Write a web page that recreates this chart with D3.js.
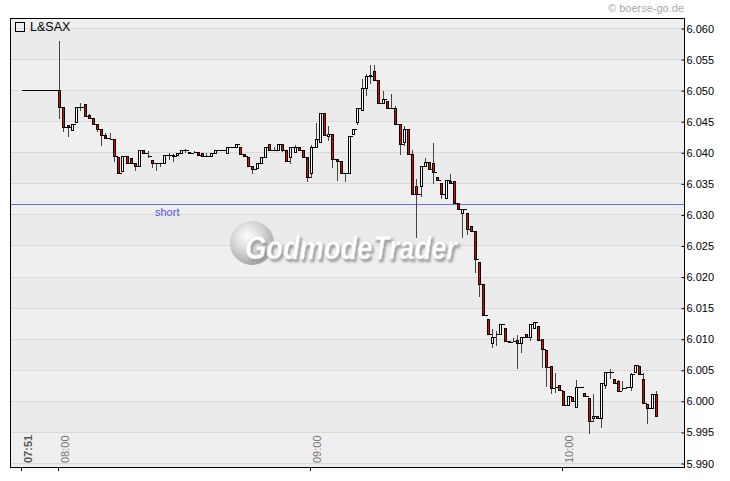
<!DOCTYPE html>
<html><head><meta charset="utf-8">
<script src="https://cdn.jsdelivr.net/npm/d3@7"></script>
<style>body{margin:0;background:#fff}svg{display:block}</style>
</head><body>
<svg id="c" width="730" height="481"></svg>
<script>
const times = ["07:51",
"08:00","08:01","08:02","08:03","08:04","08:05","08:06","08:07","08:08","08:09",
"08:10","08:11","08:12","08:13","08:14","08:15","08:16","08:17","08:18","08:19",
"08:20","08:21","08:22","08:23","08:24","08:25","08:26","08:27","08:28","08:29",
"08:30","08:31","08:32","08:33","08:34","08:35","08:36","08:37","08:38","08:39",
"08:40","08:41","08:42","08:43","08:44","08:45","08:46","08:47","08:48","08:49",
"08:50","08:51","08:52","08:53","08:54","08:55","08:56","08:57","08:58","08:59",
"09:00","09:01","09:02","09:03","09:04","09:05","09:06","09:07","09:08","09:09",
"09:10","09:11","09:12","09:13","09:14","09:15","09:16","09:17","09:18","09:19",
"09:20","09:21","09:22","09:23","09:24","09:25","09:26","09:27","09:28","09:29",
"09:30","09:31","09:32","09:33","09:34","09:35","09:36","09:37","09:38","09:39",
"09:40","09:41","09:42","09:43","09:44","09:45","09:46","09:47","09:48","09:49",
"09:50","09:51","09:52","09:53","09:54","09:55","09:56","09:57","09:58","09:59",
"10:00","10:01","10:02","10:03","10:04","10:05","10:06","10:07","10:08","10:09",
"10:10","10:11","10:12","10:13","10:14","10:15","10:16","10:17","10:18","10:19",
"10:20","10:21","10:22"];
const opens = [6.0500,
6.0500,6.0473,6.0444,6.0436,6.0449,6.0473,6.0477,6.0460,6.0455,6.0445,
6.0437,6.0428,6.0421,6.0421,6.0392,6.0370,6.0394,6.0391,6.0383,6.0378,
6.0404,6.0394,6.0387,6.0383,6.0383,6.0383,6.0395,6.0395,6.0395,6.0399,
6.0404,6.0400,6.0400,6.0400,6.0399,6.0394,6.0394,6.0399,6.0404,6.0404,
6.0399,6.0408,6.0408,6.0408,6.0398,6.0393,6.0378,6.0374,6.0382,6.0393,
6.0413,6.0404,6.0404,6.0413,6.0404,6.0393,6.0400,6.0408,6.0404,6.0393,
6.0367,6.0408,6.0416,6.0463,6.0427,6.0430,6.0390,6.0386,6.0367,6.0367,
6.0430,6.0448,6.0468,6.0503,6.0525,6.0531,6.0517,6.0480,6.0482,6.0471,
6.0471,6.0445,6.0416,6.0437,6.0398,6.0346,6.0346,6.0378,6.0385,6.0382,
6.0360,6.0350,6.0326,6.0354,6.0354,6.0318,6.0303,6.0303,6.0281,6.0273,
6.0223,6.0188,6.0132,6.0093,6.0108,6.0108,6.0118,6.0097,6.0097,6.0098,
6.0093,6.0108,6.0102,6.0118,6.0121,6.0099,6.0082,6.0056,6.0022,6.0025,
6.0016,5.9994,6.0007,5.9990,6.0022,6.0012,6.0004,5.9972,5.9976,5.9972,
6.0025,6.0047,6.0035,6.0032,6.0020,6.0022,6.0022,6.0047,6.0056,6.0035,
5.9995,5.9988,6.0011];
const highs = [6.0500,
6.0580,6.0473,6.0444,6.0445,6.0473,6.0481,6.0477,6.0463,6.0455,6.0445,
6.0437,6.0432,6.0432,6.0421,6.0392,6.0394,6.0394,6.0391,6.0383,6.0404,
6.0404,6.0404,6.0387,6.0383,6.0383,6.0395,6.0400,6.0399,6.0399,6.0404,
6.0407,6.0400,6.0404,6.0400,6.0399,6.0400,6.0399,6.0404,6.0404,6.0404,
6.0408,6.0408,6.0413,6.0408,6.0398,6.0393,6.0378,6.0382,6.0393,6.0408,
6.0413,6.0410,6.0413,6.0413,6.0404,6.0408,6.0413,6.0408,6.0404,6.0393,
6.0414,6.0449,6.0463,6.0463,6.0444,6.0430,6.0390,6.0386,6.0367,6.0427,
6.0437,6.0471,6.0519,6.0527,6.0542,6.0542,6.0517,6.0500,6.0482,6.0495,
6.0476,6.0445,6.0444,6.0437,6.0405,6.0358,6.0378,6.0393,6.0385,6.0417,
6.0360,6.0350,6.0355,6.0366,6.0354,6.0318,6.0308,6.0303,6.0281,6.0273,
6.0223,6.0188,6.0132,6.0117,6.0114,6.0123,6.0118,6.0097,6.0102,6.0108,
6.0102,6.0108,6.0123,6.0127,6.0121,6.0099,6.0082,6.0056,6.0047,6.0025,
6.0016,6.0008,6.0007,6.0035,6.0022,6.0012,6.0004,6.0012,5.9976,6.0028,
6.0047,6.0053,6.0035,6.0035,6.0034,6.0023,6.0047,6.0058,6.0056,6.0047,
5.9995,6.0011,6.0017];
const lows = [6.0500,
6.0455,6.0434,6.0426,6.0436,6.0449,6.0468,6.0458,6.0455,6.0445,6.0434,
6.0412,6.0423,6.0421,6.0386,6.0367,6.0370,6.0383,6.0383,6.0372,6.0378,
6.0399,6.0393,6.0376,6.0372,6.0378,6.0383,6.0389,6.0386,6.0395,6.0399,
6.0400,6.0399,6.0400,6.0395,6.0394,6.0394,6.0394,6.0399,6.0404,6.0404,
6.0399,6.0408,6.0408,6.0398,6.0394,6.0378,6.0367,6.0374,6.0382,6.0393,
6.0404,6.0404,6.0404,6.0402,6.0386,6.0382,6.0400,6.0404,6.0393,6.0353,
6.0360,6.0408,6.0416,6.0428,6.0420,6.0377,6.0355,6.0367,6.0353,6.0367,
6.0430,6.0445,6.0468,6.0492,6.0511,6.0517,6.0480,6.0480,6.0471,6.0471,
6.0445,6.0398,6.0412,6.0398,6.0333,6.0264,6.0329,6.0378,6.0373,6.0350,
6.0355,6.0326,6.0326,6.0350,6.0318,6.0308,6.0263,6.0268,6.0273,6.0208,
6.0168,6.0138,6.0108,6.0087,6.0090,6.0108,6.0097,6.0094,6.0097,6.0053,
6.0079,6.0102,6.0098,6.0118,6.0098,6.0055,6.0024,6.0012,6.0015,6.0017,
5.9994,5.9994,6.0000,5.9990,6.0022,6.0008,5.9948,5.9967,5.9972,5.9958,
6.0020,6.0036,6.0028,6.0016,6.0017,6.0020,6.0017,6.0047,6.0044,5.9997,
5.9965,5.9988,5.9976];
const closes = [6.0500,
6.0473,6.0441,6.0441,6.0445,6.0473,6.0473,6.0458,6.0455,6.0445,6.0437,
6.0428,6.0423,6.0421,6.0394,6.0367,6.0394,6.0383,6.0383,6.0378,6.0404,
6.0399,6.0394,6.0383,6.0383,6.0383,6.0395,6.0395,6.0394,6.0399,6.0404,
6.0404,6.0399,6.0400,6.0395,6.0394,6.0394,6.0399,6.0404,6.0404,6.0404,
6.0408,6.0408,6.0413,6.0398,6.0394,6.0378,6.0373,6.0382,6.0393,6.0408,
6.0404,6.0404,6.0413,6.0404,6.0386,6.0408,6.0408,6.0404,6.0393,6.0360,
6.0408,6.0421,6.0463,6.0428,6.0430,6.0390,6.0386,6.0367,6.0367,6.0427,
6.0437,6.0471,6.0503,6.0523,6.0523,6.0517,6.0480,6.0485,6.0471,6.0471,
6.0445,6.0413,6.0437,6.0398,6.0333,6.0333,6.0378,6.0385,6.0373,6.0369,
6.0355,6.0333,6.0355,6.0350,6.0318,6.0308,6.0308,6.0277,6.0273,6.0228,
6.0188,6.0138,6.0108,6.0102,6.0108,6.0123,6.0097,6.0094,6.0097,6.0093,
6.0102,6.0102,6.0123,6.0127,6.0098,6.0083,6.0055,6.0020,6.0022,6.0017,
5.9994,6.0008,6.0000,6.0022,6.0022,6.0008,5.9967,5.9976,5.9972,6.0028,
6.0047,6.0047,6.0028,6.0016,6.0020,6.0023,6.0043,6.0058,6.0044,5.9997,
5.9988,6.0011,5.9976];
const yTicks = [6.060,6.055,6.050,6.045,6.040,6.035,6.030,6.025,6.020,6.015,6.010,6.005,6.000,5.995,5.990];
const xTickLabels = ["07:51","08:00","09:00","10:00"];
const shortLevel = 6.0316;
const titleText = "L&SAX";
const copyrightText = "\u00a9 boerse-go.de";

const parse = d3.timeParse("%H:%M");
const svg = d3.select("#c");
const L = 10, R = 685, T = 18, B = 468;
const x = d3.scaleTime().domain([parse("07:51"), parse("10:00")]).range([20.5, 562.3]);
const y = d3.scaleLinear().domain([5.990, 6.060]).range([463, 28]);
const yr = v => Math.round(y(v)) + 0.5;

const data = times.map((t,i)=>({t:parse(t),o:opens[i],h:highs[i],l:lows[i],c:closes[i]}));

// background
svg.append("rect").attr("x",L).attr("y",T).attr("width",R-L).attr("height",B-T).attr("fill","#efefef");
const bandEdges = [T].concat(yTicks.map(v=>Math.round(y(v)))).concat([B]);
for (let i=0;i<bandEdges.length-1;i++){
  if (i%2===1) svg.append("rect").attr("x",L).attr("y",bandEdges[i]).attr("width",R-L)
     .attr("height",bandEdges[i+1]-bandEdges[i]).attr("fill","#ebebeb");
}
svg.append("g").selectAll("line").data(yTicks).join("line")
  .attr("x1",L).attr("x2",R).attr("y1",d=>yr(d)).attr("y2",d=>yr(d))
  .attr("stroke","#d9d9d9").attr("stroke-width",1);

// watermark
const defs = svg.append("defs");
const rg = defs.append("radialGradient").attr("id","wg").attr("cx","40%").attr("cy","35%").attr("r","65%");
rg.append("stop").attr("offset","0%").attr("stop-color","#ffffff");
rg.append("stop").attr("offset","60%").attr("stop-color","#d0d0d0");
rg.append("stop").attr("offset","100%").attr("stop-color","#a8a8a8");
const flt = defs.append("filter").attr("id","ds").attr("x","-10%").attr("y","-30%").attr("width","120%").attr("height","160%");
flt.append("feDropShadow").attr("dx",2).attr("dy",3).attr("stdDeviation",0.8)
  .attr("flood-color","#9a9a9a").attr("flood-opacity",0.9);
const wm = svg.append("g");
wm.append("circle").attr("cx",252).attr("cy",243).attr("r",22).attr("fill","url(#wg)");
wm.append("text").attr("x",245).attr("y",259).attr("font-family","Liberation Sans, Arial, sans-serif")
  .attr("font-size",33).attr("font-weight","bold").attr("font-style","italic")
  .attr("textLength",212).attr("lengthAdjust","spacingAndGlyphs")
  .attr("fill","#ffffff").attr("stroke","#dedede").attr("stroke-width",0.6)
  .attr("filter","url(#ds)").text("GodmodeTrader");

// short line
svg.append("line").attr("x1",L).attr("x2",R).attr("y1",yr(shortLevel)).attr("y2",yr(shortLevel))
  .attr("stroke","#6a6aff").attr("stroke-width",1);
svg.append("text").attr("x",155).attr("y",216).attr("font-family","Liberation Sans, Arial, sans-serif")
  .attr("font-size",11).attr("fill","#5050ee").text("short");

// candles
const cg = svg.append("g").attr("shape-rendering","crispEdges");
const left = d => Math.round(x(d.t));
cg.selectAll("line.conn").data(data.slice(1)).join("line").attr("class","conn")
  .attr("x1",(d,i)=>left(data[i])+2.5).attr("x2",d=>left(d)+0.5)
  .attr("y1",(d,i)=>yr(data[i].c)).attr("y2",(d,i)=>yr(data[i].c))
  .attr("stroke","#000").attr("stroke-width",1);
cg.selectAll("line.wick").data(data).join("line").attr("class","wick")
  .attr("x1",d=>left(d)+1.5).attr("x2",d=>left(d)+1.5)
  .attr("y1",d=>yr(d.h)).attr("y2",d=>yr(d.l))
  .attr("stroke","#444").attr("stroke-width",1);
cg.selectAll("path.body").data(data).join("path").attr("class","body")
  .attr("d",d=>{const a=left(d)+0.5,b=left(d)+2.5,yo=yr(d.o),yc=yr(d.c);
     return `M${a},${yo}H${b}V${yc}H${a}Z`;})
  .attr("fill",d=>d.c<d.o?"#f00000":"#ffffff")
  .attr("stroke","#000").attr("stroke-width",1);

// border
svg.append("rect").attr("x",L+0.5).attr("y",T+0.5).attr("width",R-L-1).attr("height",B-T-1)
  .attr("fill","none").attr("stroke","#000").attr("stroke-width",1).attr("shape-rendering","crispEdges");

// right axis
const yAxis = d3.axisRight(y).tickValues(yTicks).tickFormat(d3.format(".3f")).tickSize(3).tickPadding(-1);
const ya = svg.append("g").attr("transform",`translate(${R-3.5},0.5)`).call(yAxis);
ya.select(".domain").remove();
ya.selectAll(".tick line").attr("stroke","#000").attr("x1",0).attr("x2",3);
ya.selectAll(".tick text").attr("x",5).attr("font-family","Liberation Sans, Arial, sans-serif")
  .attr("font-size",11).attr("fill","#000");

// bottom axis
const xTickDates = xTickLabels.map(parse);
const xg = svg.append("g");
xg.selectAll("line").data(xTickDates).join("line")
  .attr("x1",d=>Math.round(x(d))+0.5).attr("x2",d=>Math.round(x(d))+0.5)
  .attr("y1",B-1).attr("y2",B+3).attr("stroke","#000").attr("shape-rendering","crispEdges");
xg.selectAll("text").data(xTickLabels).join("text")
  .attr("transform",d=>`translate(${Math.round(x(parse(d)))+11},463) rotate(-90)`)
  .attr("font-family","Liberation Sans, Arial, sans-serif").attr("font-size",11)
  .attr("font-weight",(d,i)=>i===0?"bold":"normal")
  .attr("fill",(d,i)=>i===0?"#555":"#777").text(d=>d);

// title
svg.append("rect").attr("x",15.5).attr("y",22.5).attr("width",9).attr("height",9)
  .attr("fill","none").attr("stroke","#000").attr("shape-rendering","crispEdges");
svg.append("text").attr("x",30).attr("y",31).attr("font-family","Liberation Sans, Arial, sans-serif")
  .attr("font-size",12.5).attr("fill","#000").text(titleText);
svg.append("text").attr("x",684).attr("y",12).attr("text-anchor","end")
  .attr("font-family","Liberation Sans, Arial, sans-serif").attr("font-size",11)
  .attr("fill","#aaa").text(copyrightText);
</script>
</body></html>
